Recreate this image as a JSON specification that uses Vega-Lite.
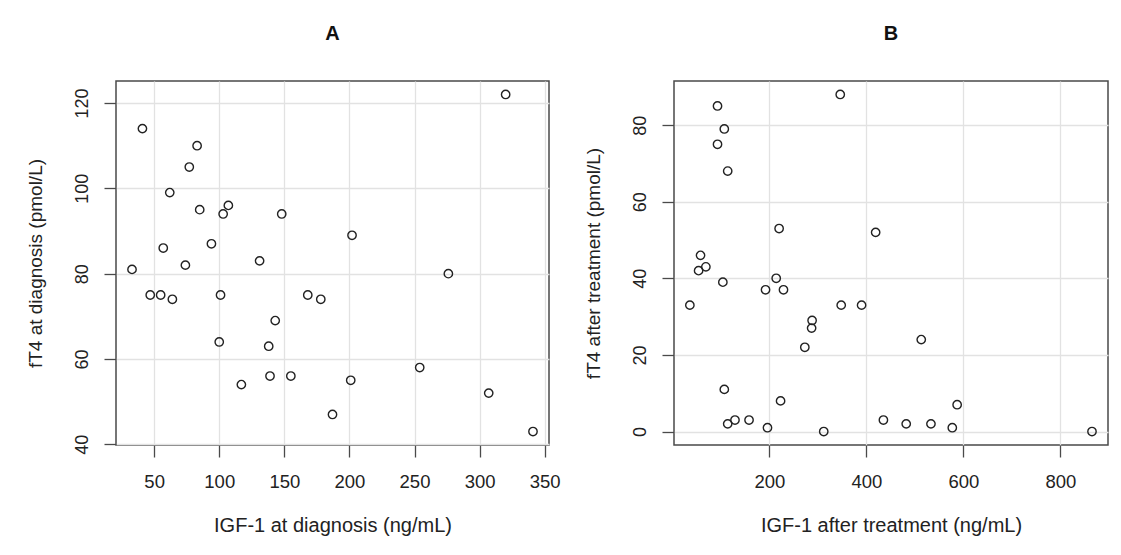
{
  "$schema": "https://vega.github.io/schema/vega-lite/v6.json",
  "background": "white",
  "padding": {"left": 25, "top": 23, "right": 5, "bottom": 5},
  "bounds": "flush",
  "spacing": 125,
  "datasets": {
    "diag": [
      {"igf1": 41, "ft4": 114}, {"igf1": 83, "ft4": 110}, {"igf1": 77, "ft4": 105}, {"igf1": 62, "ft4": 99},
      {"igf1": 85, "ft4": 95}, {"igf1": 107, "ft4": 96}, {"igf1": 103, "ft4": 94}, {"igf1": 148, "ft4": 94},
      {"igf1": 202, "ft4": 89}, {"igf1": 57, "ft4": 86}, {"igf1": 94, "ft4": 87}, {"igf1": 74, "ft4": 82},
      {"igf1": 131, "ft4": 83}, {"igf1": 33, "ft4": 81}, {"igf1": 47, "ft4": 75}, {"igf1": 55, "ft4": 75},
      {"igf1": 64, "ft4": 74}, {"igf1": 101, "ft4": 75}, {"igf1": 168, "ft4": 75}, {"igf1": 178, "ft4": 74},
      {"igf1": 143, "ft4": 69}, {"igf1": 100, "ft4": 64}, {"igf1": 138, "ft4": 63}, {"igf1": 117, "ft4": 54},
      {"igf1": 139, "ft4": 56}, {"igf1": 155, "ft4": 56}, {"igf1": 201, "ft4": 55}, {"igf1": 187, "ft4": 47},
      {"igf1": 320, "ft4": 122}, {"igf1": 276, "ft4": 80}, {"igf1": 254, "ft4": 58}, {"igf1": 307, "ft4": 52},
      {"igf1": 341, "ft4": 43}
    ],
    "post": [
      {"igf1": 93, "ft4": 85}, {"igf1": 346, "ft4": 88}, {"igf1": 107, "ft4": 79}, {"igf1": 93, "ft4": 75},
      {"igf1": 114, "ft4": 68}, {"igf1": 220, "ft4": 53}, {"igf1": 419, "ft4": 52}, {"igf1": 58, "ft4": 46},
      {"igf1": 54, "ft4": 42}, {"igf1": 69, "ft4": 43}, {"igf1": 104, "ft4": 39}, {"igf1": 36, "ft4": 33},
      {"igf1": 192, "ft4": 37}, {"igf1": 214, "ft4": 40}, {"igf1": 229, "ft4": 37}, {"igf1": 288, "ft4": 29},
      {"igf1": 287, "ft4": 27}, {"igf1": 273, "ft4": 22}, {"igf1": 348, "ft4": 33}, {"igf1": 390, "ft4": 33},
      {"igf1": 107, "ft4": 11}, {"igf1": 223, "ft4": 8}, {"igf1": 114, "ft4": 2}, {"igf1": 129, "ft4": 3},
      {"igf1": 158, "ft4": 3}, {"igf1": 196, "ft4": 1}, {"igf1": 312, "ft4": 0}, {"igf1": 435, "ft4": 3},
      {"igf1": 513, "ft4": 24}, {"igf1": 587, "ft4": 7}, {"igf1": 482, "ft4": 2}, {"igf1": 533, "ft4": 2},
      {"igf1": 577, "ft4": 1}, {"igf1": 865, "ft4": 0}
    ]
  },
  "hconcat": [
    {
      "width": 433,
      "height": 364,
      "title": {"text": "A"},
      "data": {"name": "diag"},
      "mark": {"type": "point", "shape": "circle", "filled": false, "size": 70, "stroke": "#222", "strokeWidth": 1.4, "opacity": 1},
      "encoding": {
        "x": {
          "field": "igf1", "type": "quantitative",
          "scale": {"domain": [20.7, 353.3], "nice": false, "zero": false},
          "axis": {"title": "IGF-1 at diagnosis (ng/mL)", "values": [50, 100, 150, 200, 250, 300, 350]}
        },
        "y": {
          "field": "ft4", "type": "quantitative",
          "scale": {"domain": [39.84, 125.16], "nice": false, "zero": false},
          "axis": {"title": "fT4 at diagnosis (pmol/L)", "values": [40, 60, 80, 100, 120]}
        }
      }
    },
    {
      "width": 434,
      "height": 364,
      "title": {"text": "B"},
      "data": {"name": "post"},
      "mark": {"type": "point", "shape": "circle", "filled": false, "size": 70, "stroke": "#222", "strokeWidth": 1.4, "opacity": 1},
      "encoding": {
        "x": {
          "field": "igf1", "type": "quantitative",
          "scale": {"domain": [3.3, 898], "nice": false, "zero": false},
          "axis": {"title": "IGF-1 after treatment (ng/mL)", "values": [200, 400, 600, 800]}
        },
        "y": {
          "field": "ft4", "type": "quantitative",
          "scale": {"domain": [-3.52, 91.52], "nice": false, "zero": false},
          "axis": {"title": "fT4 after treatment (pmol/L)", "values": [0, 20, 40, 60, 80]}
        }
      }
    }
  ],
  "config": {
    "font": "Liberation Sans",
    "view": {"stroke": "#4a4a4a", "strokeWidth": 1.5},
    "title": {"fontSize": 20, "fontWeight": "bold", "color": "#111", "anchor": "middle", "baseline": "alphabetic", "offset": 37, "font": "Liberation Sans"},
    "axis": {
      "domain": false,
      "grid": true,
      "gridColor": "#e2e2e2",
      "gridWidth": 1.3,
      "tickColor": "#4a4a4a",
      "tickWidth": 1.3,
      "tickSize": 12,
      "labelColor": "#222",
      "titleFontWeight": "normal",
      "titleColor": "#222",
      "labelFlush": false,
      "labelOverlap": false
    },
    "axisX": {
      "labelFontSize": 18.5,
      "titleFontSize": 20,
      "labelBaseline": "middle",
      "labelPadding": 24,
      "titleY": 80,
      "titleBaseline": "middle"
    },
    "axisY": {
      "labelFontSize": 18,
      "titleFontSize": 19,
      "labelAngle": -90,
      "labelAlign": "center",
      "labelBaseline": "middle",
      "labelPadding": 22,
      "titleX": -81,
      "titleY": 182,
      "titleAngle": -90,
      "titleAlign": "center",
      "titleBaseline": "middle"
    }
  }
}
